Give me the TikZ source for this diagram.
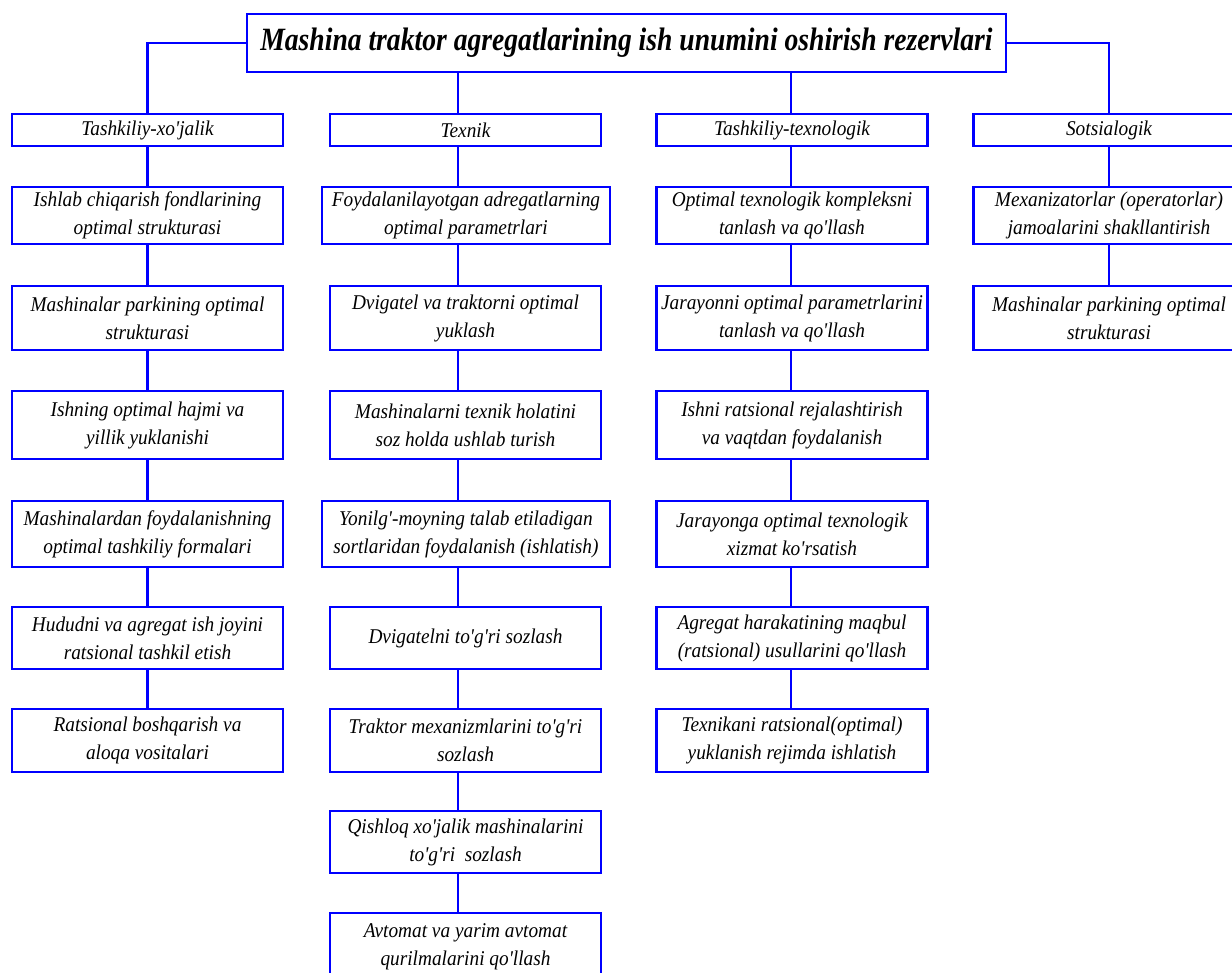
\documentclass[tikz,border=0pt]{standalone}
\usepackage{fontspec}
\setmainfont{Liberation Serif}[Ligatures=TeXOff,FakeStretch=0.92]
\newfontfamily\titlefont{Liberation Serif}[Ligatures=TeXOff,FakeStretch=0.85]

\tikzset{
  box/.style={draw=blue, line width=2.2pt, rectangle, minimum width=271pt, inner sep=0pt,
    align=center, font=\fontsize{21}{28}\selectfont\itshape},
  wide/.style={box, minimum width=288pt},
  link/.style={draw=blue, line width=2.2pt},
}

\begin{document}
\begin{tikzpicture}[x=1pt,y=-1pt]
\useasboundingbox (0,0) rectangle (1232,973);

% title
\node[box, minimum width=759pt, minimum height=58pt,
  font=\titlefont\fontsize{32.5}{36}\selectfont\bfseries\itshape] (title) at (626.5,43)
  {Mashina traktor agregatlarining ish unumini oshirish rezervlari};

% groups
\node[box, minimum height=32pt] (a0) at (147.5,130) {Tashkiliy-xo'jalik};
\node[box, minimum height=32pt] (b0) at (465.5,130) {Texnik};
\node[box, minimum height=32pt] (c0) at (792,130) {Tashkiliy-texnologik};
\node[box, minimum height=32pt] (d0) at (1109,130) {Sotsialogik};

% Tashkiliy-xo'jalik
\node[box, minimum height=57pt] (a1) at (147.5,215.5) {Ishlab chiqarish fondlarining\\optimal strukturasi};
\node[box, minimum height=64pt] (a2) at (147.5,318) {Mashinalar parkining optimal\\strukturasi};
\node[box, minimum height=68pt] (a3) at (147.5,425) {Ishning optimal hajmi va\\yillik yuklanishi};
\node[box, minimum height=66pt] (a4) at (147.5,534) {Mashinalardan foydalanishning\\optimal tashkiliy formalari};
\node[box, minimum height=62pt] (a5) at (147.5,638) {Hududni va agregat ish joyini\\ratsional tashkil etish};
\node[box, minimum height=63pt] (a6) at (147.5,740.5) {Ratsional boshqarish va\\aloqa vositalari};

% Texnik
\node[wide, minimum height=57pt] (b1) at (466,215.5) {Foydalanilayotgan adregatlarning\\optimal parametrlari};
\node[box, minimum height=64pt] (b2) at (465.5,318) {Dvigatel va traktorni optimal\\yuklash};
\node[box, minimum height=68pt] (b3) at (465.5,425) {Mashinalarni texnik holatini\\soz holda ushlab turish};
\node[wide, minimum height=66pt] (b4) at (466,534) {Yonilg'-moyning talab etiladigan\\sortlaridan foydalanish (ishlatish)};
\node[box, minimum height=62pt] (b5) at (465.5,638) {Dvigatelni to'g'ri sozlash};
\node[box, minimum height=63pt] (b6) at (465.5,740.5) {Traktor mexanizmlarini to'g'ri\\sozlash};
\node[box, minimum height=62pt] (b7) at (465.5,842) {Qishloq xo'jalik mashinalarini\\to'g'ri~ sozlash};
\node[box, minimum height=67pt] (b8) at (465.5,946.5) {Avtomat va yarim avtomat\\qurilmalarini qo'llash};

% Tashkiliy-texnologik
\node[box, minimum height=57pt] (c1) at (792,215.5) {Optimal texnologik kompleksni\\tanlash va qo'llash};
\node[box, minimum height=64pt] (c2) at (792,318) {Jarayonni optimal parametrlarini\\tanlash va qo'llash};
\node[box, minimum height=68pt] (c3) at (792,425) {Ishni ratsional rejalashtirish\\va vaqtdan foydalanish};
\node[box, minimum height=66pt] (c4) at (792,534) {Jarayonga optimal texnologik\\xizmat ko'rsatish};
\node[box, minimum height=62pt] (c5) at (792,638) {Agregat harakatining maqbul\\(ratsional) usullarini qo'llash};
\node[box, minimum height=63pt] (c6) at (792,740.5) {Texnikani ratsional(optimal)\\yuklanish rejimda ishlatish};

% Sotsialogik
\node[box, minimum height=57pt] (d1) at (1109,215.5) {Mexanizatorlar (operatorlar)\\jamoalarini shakllantirish};
\node[box, minimum height=64pt] (d2) at (1109,318) {Mashinalar parkining optimal\\strukturasi};

% connectors
\coordinate (linea) at (147.5,0);
\coordinate (lineb) at (458,0);
\coordinate (linec) at (791,0);
\coordinate (lined) at (1109,0);

\draw[link] (title.west) -| (a0.north);
\draw[link] (title.east) -| (d0.north);
\draw[link] (title.south -| lineb) -- (b0.north -| lineb);
\draw[link] (title.south -| linec) -- (c0.north -| linec);

\foreach \c/\n in {a/6,b/8,c/6,d/2}
  \foreach \i in {1,...,\n}
  {
    \pgfmathtruncatemacro\j{\i-1}
    \draw[link] (\c\j.south -| line\c) -- (\c\i.north -| line\c);
  }

\end{tikzpicture}
\end{document}
